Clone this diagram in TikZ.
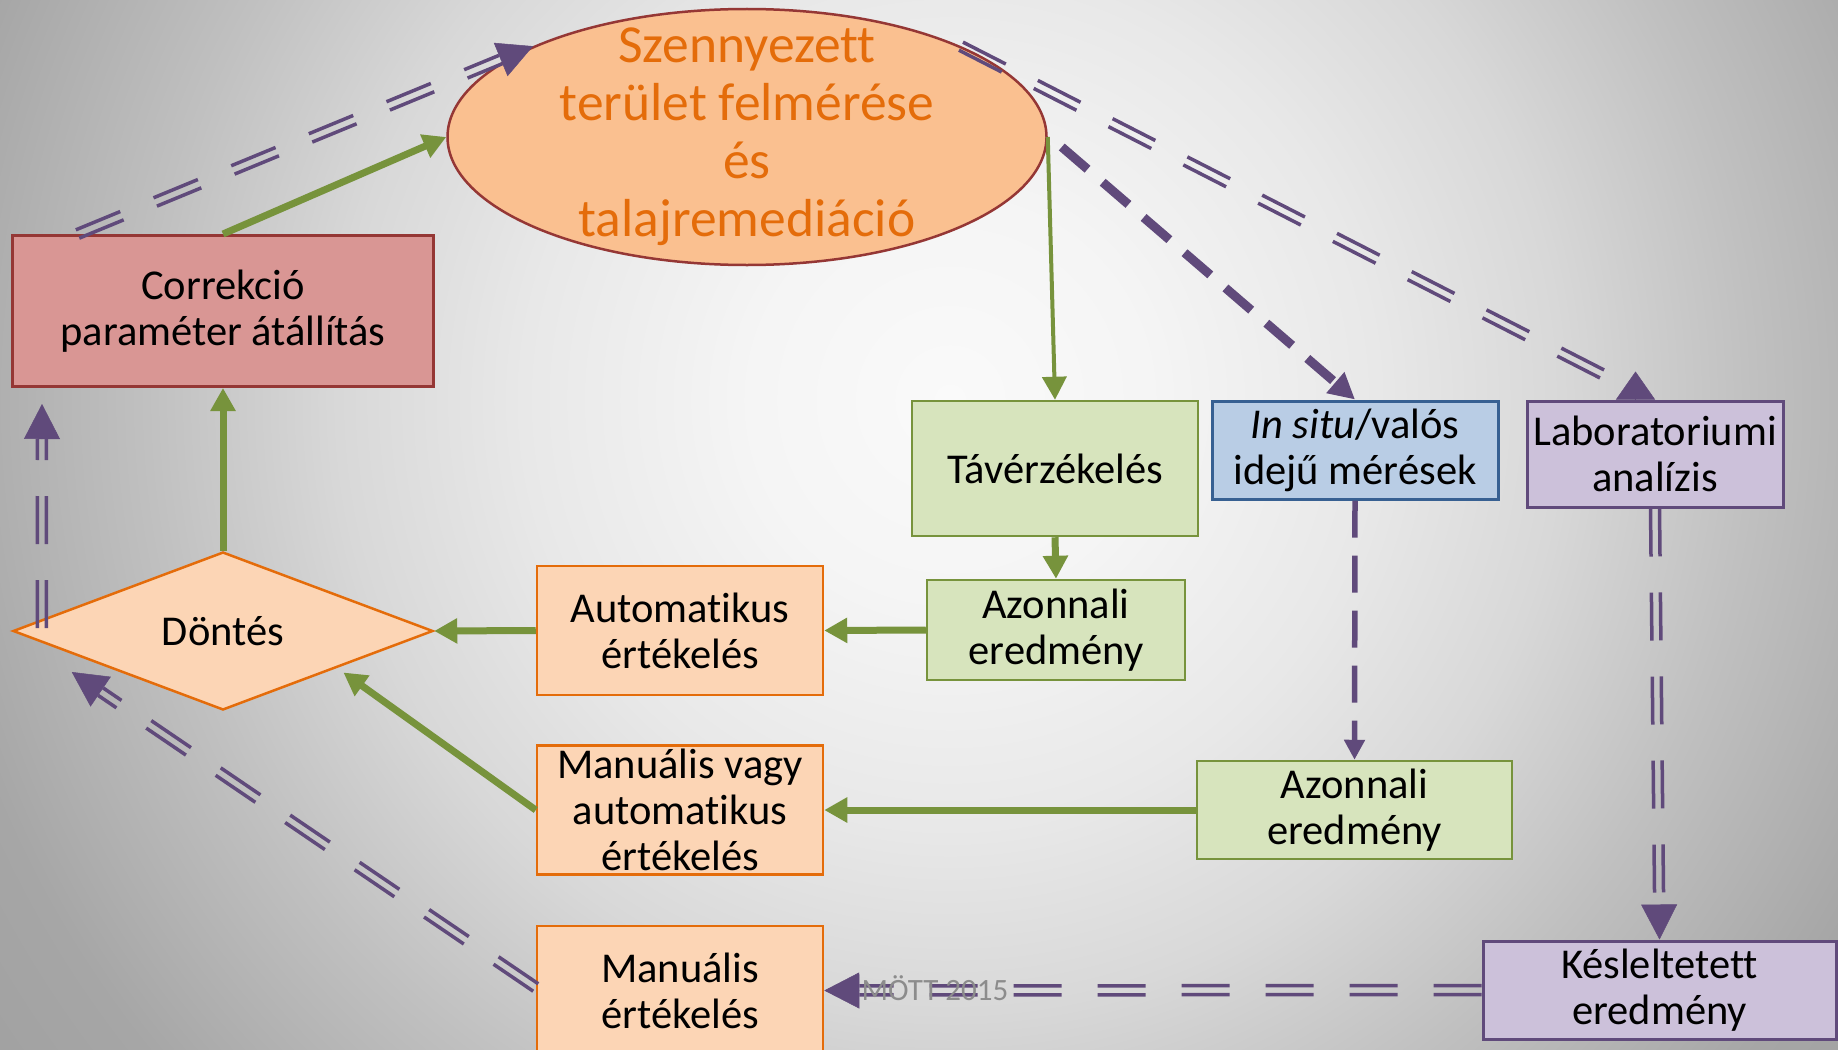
\documentclass[tikz,border=0pt]{standalone}
\usepackage{fontspec}
\setmainfont{Carlito}[Ligatures={TeX,NoCommon},Contextuals=NoAlternate]
\usetikzlibrary{shapes.geometric,arrows.meta,calc}

% palette
\definecolor{grn}{HTML}{77933C}
\definecolor{prp}{HTML}{604A7B}
\definecolor{ellfill}{HTML}{FAC090}
\definecolor{redline}{HTML}{953735}
\definecolor{elltext}{HTML}{E46C0A}
\definecolor{corrfill}{HTML}{D99694}
\definecolor{orfill}{HTML}{FCD5B5}
\definecolor{orline}{HTML}{E46C0A}
\definecolor{gfill}{HTML}{D7E4BD}
\definecolor{gline}{HTML}{77933C}
\definecolor{bfill}{HTML}{B9CDE5}
\definecolor{bline}{HTML}{376092}
\definecolor{vfill}{HTML}{CCC1DA}
\definecolor{vline}{HTML}{604A7B}
\definecolor{mottgray}{HTML}{8C8C8C}

% backdrop greys, radii given at natural size
\definecolor{bg0}{gray}{0.98}
\definecolor{bg1}{gray}{0.96}
\definecolor{bg2}{gray}{0.91}
\definecolor{bg3}{gray}{0.847}
\definecolor{bg4}{gray}{0.753}
\definecolor{bg5}{gray}{0.651}
\definecolor{bg6}{gray}{0.627}
\pgfdeclareradialshading{backdrop}{\pgfpoint{0bp}{0bp}}{%
  color(0bp)=(bg0); color(200bp)=(bg1); color(425bp)=(bg2);
  color(610bp)=(bg3); color(800bp)=(bg4); color(1030bp)=(bg5);
  color(1200bp)=(bg6)}

\newcommand\boxfont{\fontsize{42.5}{46}\selectfont}

% two parallel dashed strokes between two points
\newcommand\dblline[2]{%
  \draw[dbl] ($#1!4.5pt!90:#2$) -- ($#2!4.5pt!-90:#1$);
  \draw[dbl] ($#1!4.5pt!-90:#2$) -- ($#2!4.5pt!90:#1$);}
% double dashed connector ending in a solid triangular tip
\newcommand\dblarrow[2]{%
  \coordinate (dblbase) at ($#2!35pt!#1$);
  \dblline{#1}{(dblbase)}%
  \draw[ptip] (dblbase) -- #2;}

\begin{document}
\begin{tikzpicture}[x=1pt,y=-1pt,
  every node/.style={inner sep=0pt, align=center},
  basebox/.style={rectangle, line width=2.5pt, font=\boxfont, text=black},
  corrbox/.style={basebox, draw=redline, fill=corrfill, line width=3pt},
  orangebox/.style={basebox, draw=orline, fill=orfill},
  greenbox/.style={basebox, draw=gline, fill=gfill},
  bluebox/.style={basebox, draw=bline, fill=bfill, line width=3pt},
  violetbox/.style={basebox, draw=vline, fill=vfill, line width=3pt},
  decision/.style={diamond, aspect=2.66, draw=orline, fill=orfill,
    line width=2.5pt, font=\boxfont, minimum width=420pt, minimum height=158pt},
  garrow/.style={draw=grn, line width=7pt, -{Triangle[length=23pt,width=24pt]}},
  dbl/.style={draw=prp, line width=3.5pt, dash pattern=on 48pt off 36pt},
  ptip/.style={draw=prp, line width=0.5pt, -{Triangle[length=35pt,width=36pt]}},
  pdash/.style={draw=prp, line width=9pt, dash pattern=on 34pt off 20pt,
    -{Triangle[length=26pt,width=26pt]}},
  pdashthin/.style={draw=prp, line width=5.5pt, dash pattern=on 37pt off 18pt,
    -{Triangle[length=20pt,width=20pt]}}]

% backdrop
\path[use as bounding box] (0,0) rectangle (1838,1049);
\begin{scope}
  \clip (0,0) rectangle (1838,1049);
  \fill[bg6] (0,0) rectangle (1838,1049);
  \node[outer sep=0pt] (backdrop) at (950,400) {\pgfuseshading{backdrop}};
\end{scope}

% nodes
\node[ellipse, draw=redline, fill=ellfill, line width=2.5pt,
  minimum width=599pt, minimum height=256pt] (ell) at (747,137) {};
\node[text=elltext, font=\fontsize{53.5}{58}\selectfont] (elltxt) at (ell.center)
  {Szennyezett\\terület felmérése\\és\\talajremediáció};

\node[corrbox, minimum width=421pt, minimum height=151pt] (corr) at (223,311)
  {Correkció\\paraméter átállítás};
\node[decision] (dont) at (223,631) {Döntés};

\node[greenbox, minimum width=286pt, minimum height=135pt] (tav) at (1055,468.5) {Távérzékelés};
\node[bluebox, minimum width=286pt, minimum height=98pt] (insitu) at (1355,450)
  {\textit{In situ}/valós\\idejű mérések};
\node[violetbox, minimum width=256pt, minimum height=106pt] (lab) at (1655,454)
  {Laboratoriumi\\analízis};
\node[greenbox, minimum width=258pt, minimum height=100pt] (az1) at (1056,630)
  {Azonnali\\eredmény};
\node[orangebox, minimum width=286pt, minimum height=129pt] (auto) at (680,630.5)
  {Automatikus\\értékelés};
\node[orangebox, minimum width=286pt, minimum height=129pt] (mv) at (680,810)
  {Manuális vagy\\automatikus\\értékelés};
\node[greenbox, minimum width=315pt, minimum height=98pt] (az2) at (1354.5,810)
  {Azonnali\\eredmény};
\node[orangebox, minimum width=286pt, minimum height=129pt] (me) at (680,990.5)
  {Manuális\\értékelés};
\node[violetbox, minimum width=353pt, minimum height=98pt] (kes) at (1659.5,990)
  {Késleltetett\\eredmény};

% green flow
\draw[garrow] (corr.north) -- (ell.west);
\draw[garrow] (dont.north) -- (corr.south);
\draw[garrow, line width=4pt] (ell.east) -- (tav.north);
\draw[garrow] (tav.south) -- (az1.north);
\draw[garrow] (az1.west) -- (auto.east);
\draw[garrow] (auto.west) -- (dont.east);
\coordinate (dtip) at ($(dont.east)!0.43!(dont.south)+(0,7)$);
\draw[garrow] (mv.west) -- (dtip);
\draw[garrow] (az2.west) -- (mv.east);

% purple links
\coordinate (s2) at ($(corr.north west)!0.157!(corr.north east)$);
\dblarrow{(s2)}{(ell.157)}

\coordinate (s4) at ($(dont.west)+(30,-3)$);
\coordinate (t4) at ($(corr.south west)+(31,16)$);
\dblarrow{(s4)}{(t4)}

\coordinate (s6) at ($(ell.east)+(14,10)$);
\draw[pdash] (s6) -- (insitu.north);

\coordinate (e7) at ($(lab.north)+(-48,-23)$);
\dblline{(ell.23)}{(e7)}
\coordinate (b7) at ($(lab.north)+(-19.5,0)$);
\coordinate (t7) at ($(lab.north)+(-19.5,-28)$);
\draw[ptip, -{Triangle[length=28pt,width=39pt]}] (b7) -- (t7);

\draw[pdashthin] (insitu.south) -- (az2.north);

\dblarrow{(lab.south)}{(kes.north)}
\dblarrow{(kes.west)}{(me.east)}

\coordinate (s16) at ($(me.west)+(0,-3)$);
\coordinate (t16) at ($(dont.west)+(60,41)$);
\dblarrow{(s16)}{(t16)}

\node[text=mottgray, font=\fontsize{31}{36}\selectfont] (mott) at (935,988) {MÖTT 2015};
\end{tikzpicture}
\end{document}
